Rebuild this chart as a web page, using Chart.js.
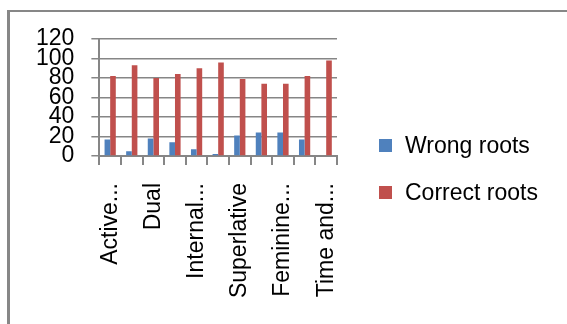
<!DOCTYPE html>
<html>
<head>
<meta charset="utf-8">
<script src="https://cdn.jsdelivr.net/npm/chart.js@4/dist/chart.umd.min.js"></script>
<style>
  html, body { margin: 0; padding: 0; background: #ffffff; }
  #wrap { position: relative; width: 567px; height: 324px; }
</style>
</head>
<body>
<div id="wrap"><canvas id="chart" width="567" height="324"></canvas></div>
<script>
// Category labels (every other one is shown on the axis)
const categories = ["Active...", "", "Dual", "", "Internal...", "", "Superlative", "", "Feminine...", "", "Time and..."];
const wrongRoots   = [17, 5, 18, 14, 7, 2, 21, 24, 24, 17, 0];
const correctRoots = [82, 93, 80, 84, 90, 96, 79, 74, 74, 82, 98];
const yTicks = [0, 20, 40, 60, 80, 100, 120];

const FONT = "'Liberation Sans', Arial, sans-serif";
const GRID = "#868686";

// Frame around the chart area and a side legend
const decor = {
  id: "decor",
  beforeDraw(chart) {
    const ctx = chart.ctx;
    ctx.save();
    ctx.fillStyle = "#ffffff";
    ctx.fillRect(0, 0, chart.width, chart.height);
    ctx.fillStyle = "#878787";
    ctx.fillRect(7, 10, 3, chart.height - 10);
    ctx.fillRect(7, 10, chart.width - 7, 2);
    ctx.restore();
  },
  afterDraw(chart) {
    const ctx = chart.ctx;
    const x0 = chart.chartArea.right + 42;
    const yStart = 145.5;
    const step = 47;
    ctx.save();
    ctx.font = "23px " + FONT;
    ctx.textBaseline = "middle";
    ctx.textAlign = "left";
    chart.data.datasets.forEach((ds, i) => {
      const cy = yStart + i * step;
      ctx.fillStyle = ds.backgroundColor;
      ctx.fillRect(x0, cy - 6.5, 13, 13);
      ctx.fillStyle = "#000000";
      ctx.fillText(ds.label, x0 + 26, cy + 1);
    });
    ctx.restore();
  }
};

new Chart(document.getElementById("chart"), {
  type: "bar",
  data: {
    labels: categories,
    datasets: [
      { label: "Wrong roots", data: wrongRoots, backgroundColor: "#4F81BD",
        categoryPercentage: 0.52, barPercentage: 1.0 },
      { label: "Correct roots", data: correctRoots, backgroundColor: "#C0504D",
        categoryPercentage: 0.52, barPercentage: 1.0 }
    ]
  },
  options: {
    responsive: false,
    animation: false,
    devicePixelRatio: 1,
    layout: { padding: { left: 19, top: 39, right: 230, bottom: 0 } },
    plugins: {
      legend: { display: false },
      tooltip: { enabled: false }
    },
    scales: {
      x: {
        offset: true,
        afterFit(scale) { scale.height = 168; },
        grid: {
          offset: true,
          drawOnChartArea: false,
          drawTicks: true,
          tickLength: 9,
          color: GRID,
          lineWidth: 2
        },
        border: { display: true, color: GRID, width: 2 },
        ticks: {
          autoSkip: false,
          minRotation: 90,
          maxRotation: 90,
          padding: 18,
          color: "#000000",
          font: { family: FONT, size: 23 }
        }
      },
      y: {
        min: 0,
        max: 120,
        afterBuildTicks(scale) { scale.ticks = yTicks.map(v => ({ value: v })); },
        grid: {
          drawTicks: true,
          tickLength: 8,
          color: GRID,
          lineWidth: 1.5
        },
        border: { display: true, color: GRID, width: 2 },
        ticks: {
          autoSkip: false,
          padding: 17,
          color: "#000000",
          font: { family: FONT, size: 23 }
        }
      }
    }
  },
  plugins: [decor]
});
</script>
</body>
</html>
